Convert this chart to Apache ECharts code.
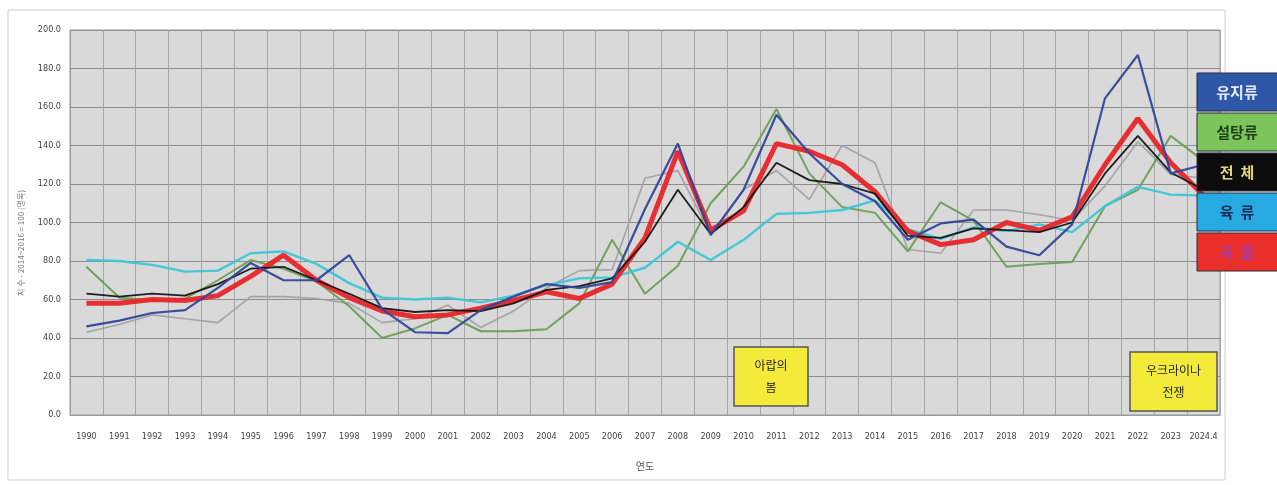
<!DOCTYPE html>
<html>
<head>
<meta charset="utf-8">
<script src="https://cdn.jsdelivr.net/npm/echarts@6/dist/echarts.min.js"></script>
<style>
  html, body { margin: 0; padding: 0; background: #ffffff; }
  #chart { width: 1277px; height: 485px; }
</style>
</head>
<body>
<div id="chart"></div>
<script>
// FAO food price indices by group, 1990 to April 2024
const years = ['1990','1991','1992','1993','1994','1995','1996','1997','1998','1999',
  '2000','2001','2002','2003','2004','2005','2006','2007','2008','2009',
  '2010','2011','2012','2013','2014','2015','2016','2017','2018','2019',
  '2020','2021','2022','2023','2024.4'];

const totalIdx  = [63, 61.5, 63, 62, 68, 76, 77, 70, 63, 55.5,
  53.5, 54.5, 54, 58, 65, 67, 71, 90, 117, 94,
  108, 131, 122, 120, 115, 93, 92, 97, 96, 95,
  100, 125.5, 145, 126, 117];
const cerealIdx = [58, 58, 60, 59.5, 62, 72, 83, 70, 61, 54,
  51, 52, 55.5, 59.5, 64, 60.5, 68, 92, 137, 96,
  106, 141, 137, 130, 116, 95.5, 88.5, 91, 100, 96,
  103, 130, 154, 131, 114];
const oilIdx    = [46, 49, 53, 54.5, 66, 79, 70, 70, 83, 55,
  43, 42.5, 54.5, 61.5, 68, 66, 69, 107, 141, 93.5,
  117, 156, 136, 120, 111, 91, 99.5, 101.5, 87.5, 83,
  99, 164.5, 187, 125.5, 130];
const sugarIdx  = [77, 61, 59.5, 60.5, 70, 80.5, 76, 69.5, 56.5, 40,
  45, 52, 43.5, 43.5, 44.5, 58, 91, 63, 77.5, 110,
  129, 159, 125.5, 108, 105, 85, 110.5, 101, 77, 78.5,
  79.5, 108.5, 117, 145, 132];
const meatIdx   = [80.5, 80, 78, 74.5, 75, 84, 85, 78.5, 68.5, 61,
  60, 61, 58.5, 62, 67.5, 71, 71.5, 76.5, 90, 80.5,
  91, 104.5, 105, 106.5, 111.5, 96.5, 91.5, 97.5, 95.5, 99,
  95, 108.5, 118.5, 114.5, 114];
const dairyIdx  = [43, 47, 52, 50, 48, 61.5, 61.5, 60.5, 58, 48,
  50, 57, 45.5, 54, 66, 75, 75.5, 123, 127, 94,
  117, 127, 112, 140, 131, 86, 84, 106.5, 106.5, 104,
  101, 119, 142, 125, 123];

const yTicks = [0, 20, 40, 60, 80, 100, 120, 140, 160, 180, 200];

const legendItems = [
  { name: '유지류', bg: '#2f57a8', fg: '#e6ecff' },
  { name: '설탕류', bg: '#7cc55a', fg: '#1e3d1a' },
  { name: '전  체', bg: '#0c0c0c', fg: '#e6d67a' },
  { name: '육  류', bg: '#27a9e1', fg: '#142a52' },
  { name: '곡  물', bg: '#ea2e2a', fg: '#a23aa8' }
];

const notes = [
  { text: '아랍의\n봄', x: 734, y: 347, w: 74, h: 59 },
  { text: '우크라이나\n전쟁', x: 1130, y: 352, w: 87, h: 59 }
];

const chart = echarts.init(document.getElementById('chart'), null, { renderer: 'canvas' });

function line(name, data, color, width, z) {
  return {
    name: name, type: 'line', data: data, symbol: 'none', z: z,
    lineStyle: { color: color, width: width, opacity: 0.95 },
    emphasis: { disabled: true }
  };
}

const graphics = [
  { type: 'rect', x: 8, y: 10, z: -10, silent: true,
    shape: { width: 1217, height: 470 },
    style: { fill: 'none', stroke: '#cfcfcf', lineWidth: 1 } }
];
legendItems.forEach(function (it, i) {
  const top = 73 + i * 40;
  graphics.push({
    type: 'rect', x: 1197, y: top, z: 100, silent: true,
    shape: { width: 82, height: 38 },
    style: { fill: it.bg, stroke: '#2a2a3a', lineWidth: 1 }
  });
  graphics.push({
    type: 'text', x: 1237, y: top + 19, z: 101, silent: true,
    style: { text: it.name, fill: it.fg, font: 'bold 15px "Noto Sans CJK KR", sans-serif',
             textAlign: 'center', textVerticalAlign: 'middle' }
  });
});
notes.forEach(function (n) {
  graphics.push({
    type: 'rect', x: n.x, y: n.y, z: 90, silent: true,
    shape: { width: n.w, height: n.h },
    style: { fill: '#f3ea3a', stroke: '#555555', lineWidth: 1.5 }
  });
  graphics.push({
    type: 'text', x: n.x + n.w / 2, y: n.y + n.h / 2, z: 91, silent: true,
    style: { text: n.text, fill: '#222222', font: '12px "Noto Sans CJK KR", sans-serif',
             textAlign: 'center', textVerticalAlign: 'middle', lineHeight: 22 }
  });
});
// vertical axis title, reading bottom to top
graphics.push({
  type: 'text', x: 17, y: 296, rotation: Math.PI / 2, originX: 0, originY: 0, z: 50, silent: true,
  style: { text: '지 수 - 2014~2016 = 100 (명목)', fill: '#777777',
           font: '8px "Noto Sans CJK KR", sans-serif', textAlign: 'left', textVerticalAlign: 'top' }
});

chart.setOption({
  animation: false,
  backgroundColor: '#ffffff',
  grid: { left: 70, right: 57, top: 30, bottom: 70, show: true,
          backgroundColor: '#d9d9d9', borderColor: '#9a9a9a', borderWidth: 1 },
  xAxis: {
    type: 'category', data: years, boundaryGap: true,
    name: '연도', nameLocation: 'middle', nameGap: 46,
    nameTextStyle: { color: '#555555', fontSize: 10, fontFamily: '"Noto Sans CJK KR", sans-serif' },
    axisLine: { lineStyle: { color: '#9a9a9a' } },
    axisTick: { show: false },
    axisLabel: { interval: 0, margin: 17, color: '#444444', fontSize: 9,
                 fontFamily: '"Liberation Sans Narrow", "DejaVu Sans Condensed", "Liberation Sans", sans-serif' },
    splitLine: { show: true, interval: 0, lineStyle: { color: '#a6a6a6', width: 1 } }
  },
  yAxis: {
    type: 'value', min: 0, max: 200, interval: 20,
    axisLine: { show: true, lineStyle: { color: '#9a9a9a' } },
    axisTick: { show: false },
    axisLabel: { margin: 9, color: '#444444', fontSize: 9,
                 fontFamily: '"Liberation Sans Narrow", "DejaVu Sans Condensed", "Liberation Sans", sans-serif',
                 formatter: function (v) { return yTicks.indexOf(v) >= 0 ? v.toFixed(1) : ''; } },
    splitLine: { lineStyle: { color: '#8c8c8c', width: 1.2 } }
  },
  series: [
    line('유제품', dairyIdx, '#a0a0a8', 1.6, 2),
    line('설탕류', sugarIdx, '#6c9f55', 2, 3),
    line('육류', meatIdx, '#3cc6d8', 2.4, 4),
    line('곡물', cerealIdx, '#e8262a', 5, 5),
    line('전체', totalIdx, '#141414', 1.8, 6),
    line('유지류', oilIdx, '#33469a', 2.2, 7)
  ],
  graphic: graphics
});
</script>
</body>
</html>
